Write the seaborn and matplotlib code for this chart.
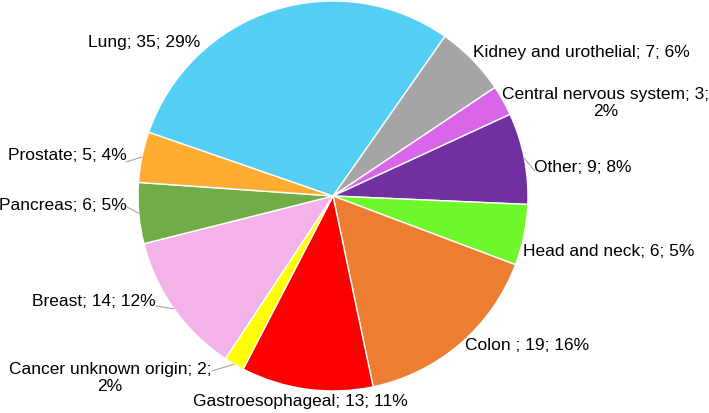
import numpy as np
import matplotlib
matplotlib.use("Agg")
import matplotlib.pyplot as plt
import seaborn as sns

# -------------------------------
# Data (clockwise from the grey slice)
# -------------------------------
sites = ["Kidney and urothelial", "Central nervous system", "Other", "Head and neck",
         "Colon ", "Gastroesophageal", "Cancer unknown origin", "Breast",
         "Pancreas", "Prostate", "Lung"]
counts = [7, 3, 9, 6, 19, 13, 2, 14, 6, 5, 35]
pct_labels = ["6%", "2%", "8%", "5%", "16%", "11%", "2%", "12%", "5%", "4%", "29%"]
colors = ["#A5A5A5", "#D965E8", "#7030A0", "#6EF72B", "#ED7D31", "#FF0000",
          "#FFFF00", "#F3B2E8", "#70AD47", "#FFAC33", "#55CEF5"]

# -------------------------------
# Layout (pixel coordinates, y from top)
# -------------------------------
W, H = 709, 414
cx, cy, R = 333, 197, 195
label_xy = [(581, 52), (606, 103), (583, 168), (609, 252), (527, 346), (300, 402),
            (110, 378), (94, 302), (63, 205), (67, 155), (144, 43)]
wrapped = {1: "Central nervous system; 3;\n2%", 6: "Cancer unknown origin; 2;\n2%"}
leader_start = {2: (535, 172), 6: (212, 372), 7: (156, 307), 8: (127, 208), 9: (126, 163)}

sns.set_theme(style="white")
plt.rcParams['font.family'] = ['Liberation Sans', 'DejaVu Sans']

fig = plt.figure(figsize=(W / 100, H / 100), dpi=100)
ax = fig.add_axes([0, 0, 1, 1])

wedges, _ = ax.pie(counts, colors=colors, startangle=55, counterclock=False,
                   center=(cx, H - cy), radius=R,
                   wedgeprops=dict(edgecolor="white", linewidth=1.0))
ax.set_xlim(0, W)
ax.set_ylim(0, H)
ax.set_aspect("equal")
ax.axis("off")

for i, w in enumerate(wedges):
    text = wrapped.get(i, f"{sites[i]}; {counts[i]}; {pct_labels[i]}")
    lx, ly = label_xy[i]
    ax.text(lx, H - ly, text, ha="center", va="center", fontsize=12.5,
            color="black", linespacing=1.2)
    if i in leader_start:
        mid = np.deg2rad((w.theta1 + w.theta2) / 2)
        ex = w.center[0] + w.r * np.cos(mid)
        ey = w.center[1] + w.r * np.sin(mid)
        sx, sy = leader_start[i]
        ax.plot([sx, ex], [H - sy, ey], color="#A6A6A6", lw=0.8)

fig.savefig("out.png", dpi=100)
